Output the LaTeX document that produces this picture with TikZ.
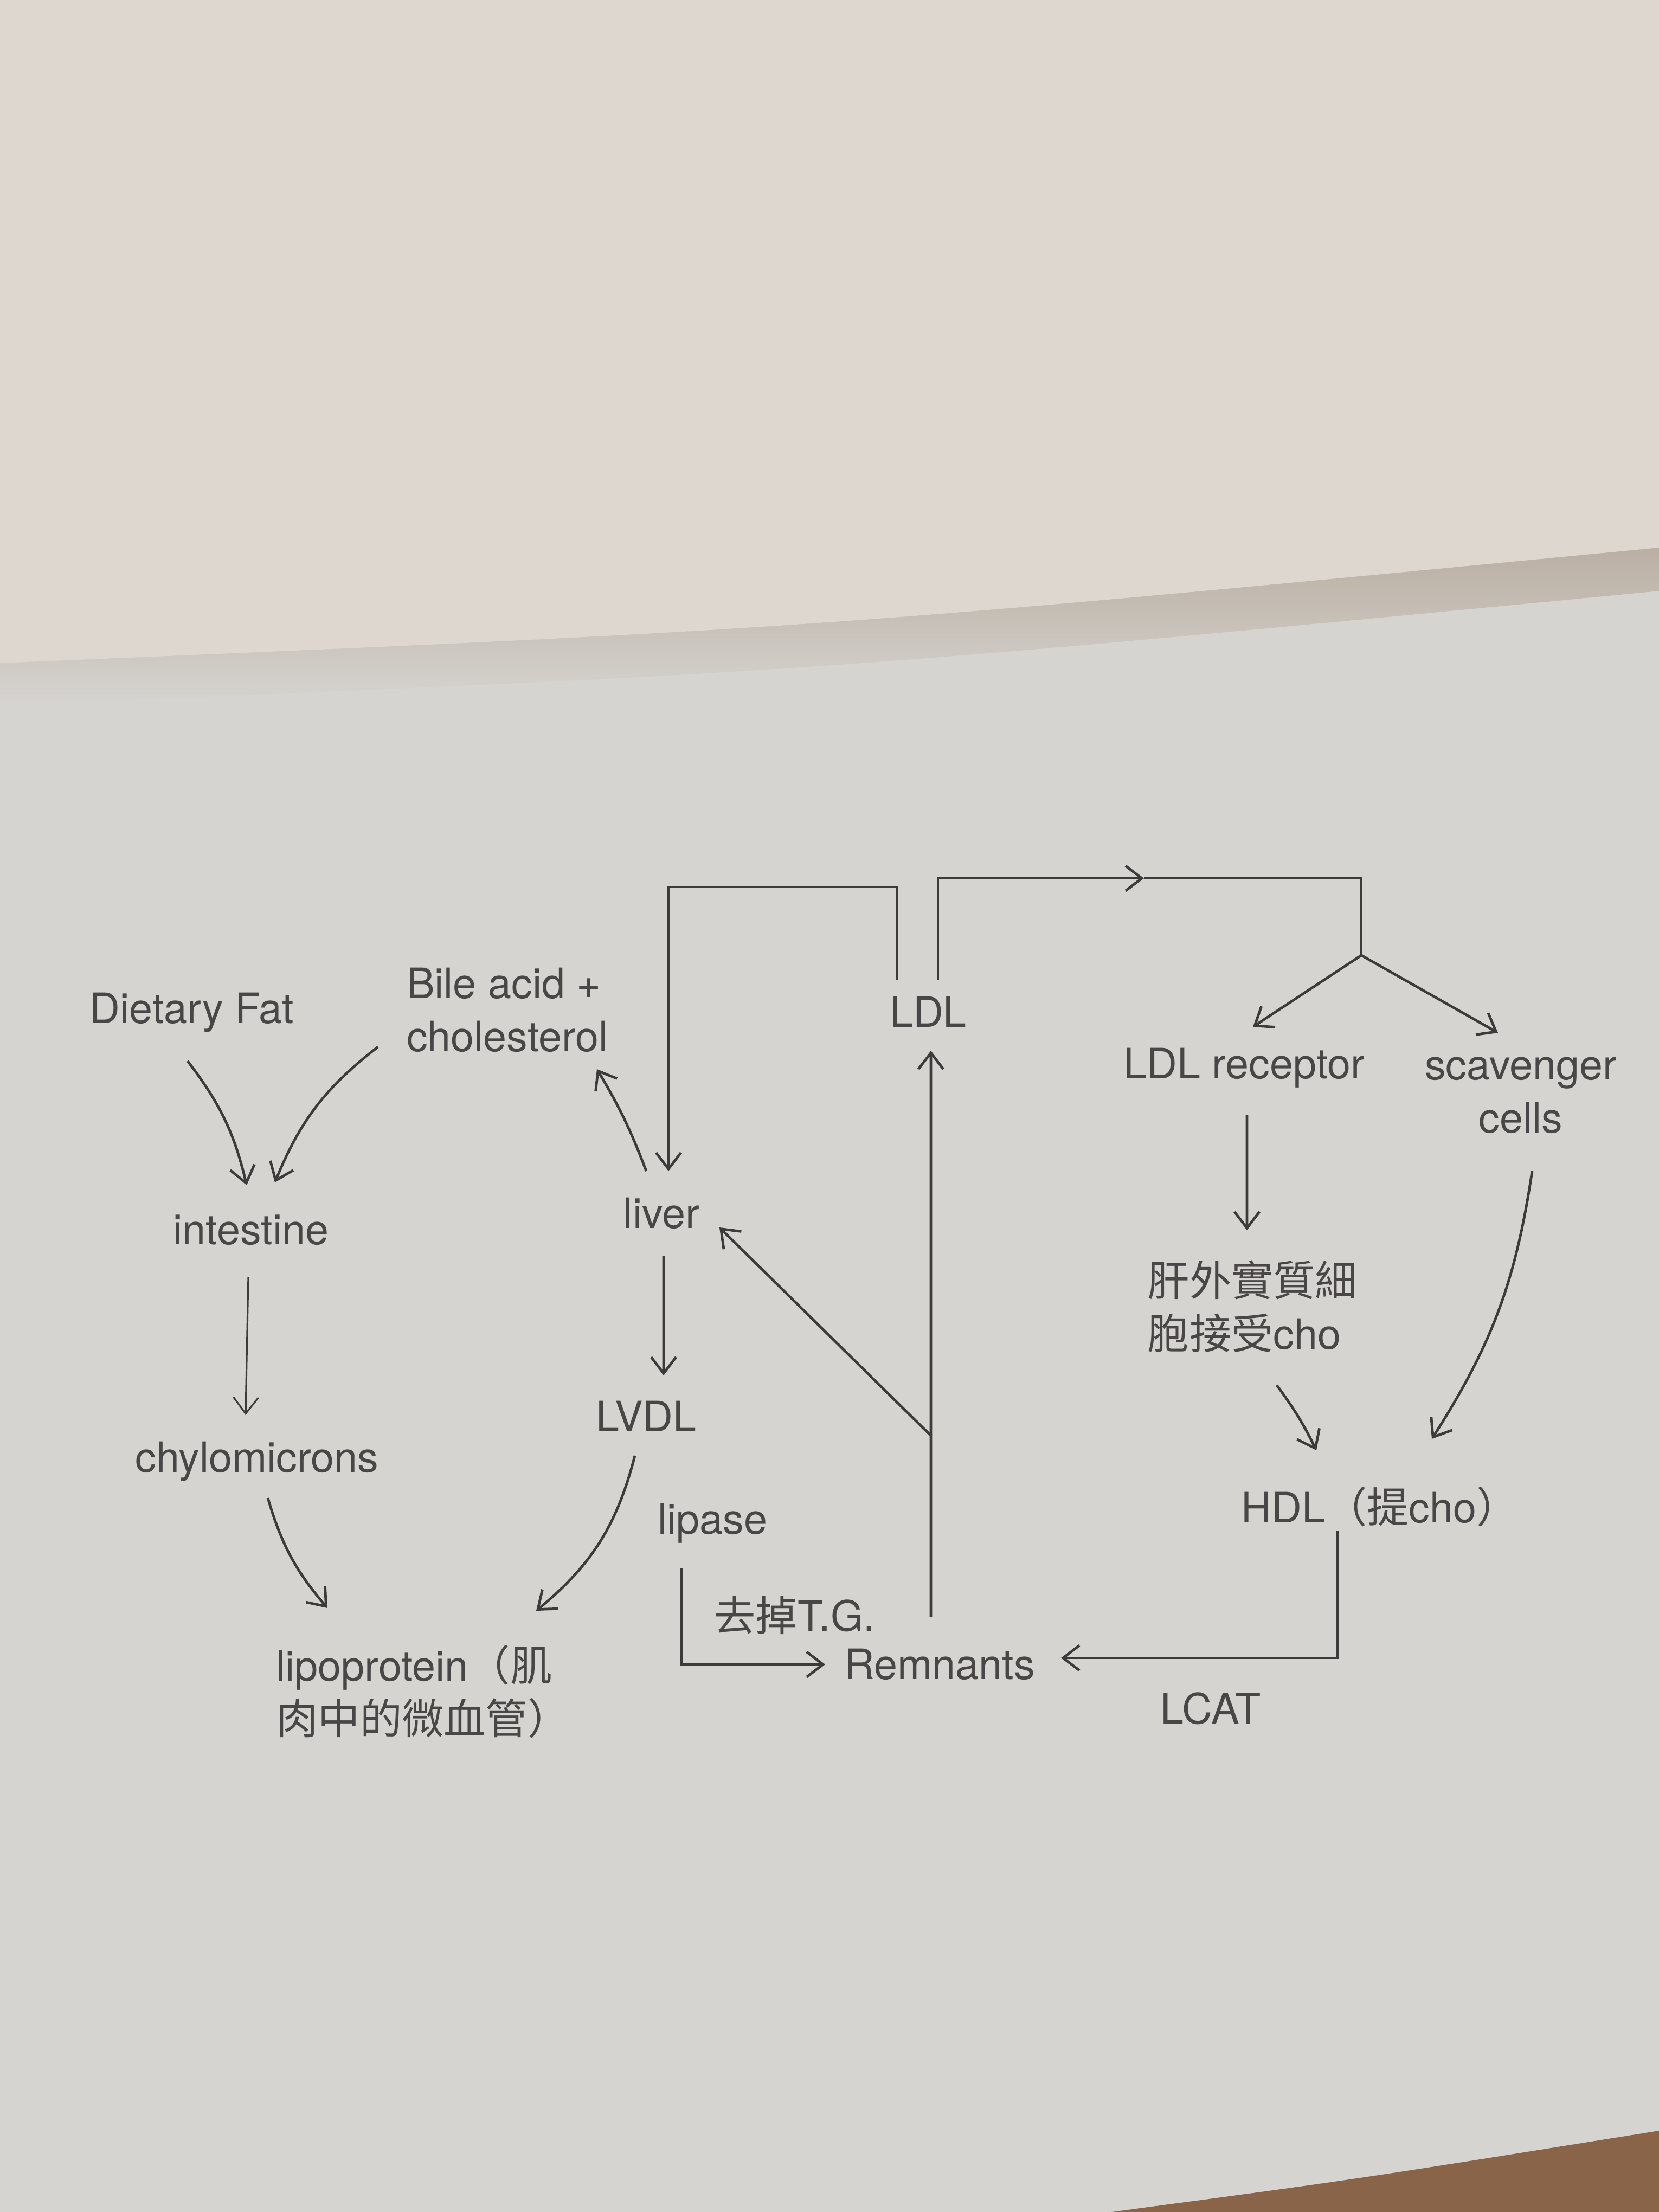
\documentclass[tikz,border=0pt]{standalone}
\usepackage{fontspec}
\setmainfont{TeX Gyre Heros}
\newfontfamily\cjk{Noto Sans CJK TC}
\usetikzlibrary{arrows.meta,positioning}
\definecolor{paper}{HTML}{D6D4D0}
\definecolor{otherpage}{HTML}{DDD7CF}
\definecolor{fold}{HTML}{B9AEA2}
\definecolor{table}{HTML}{8A6448}
\definecolor{ink}{HTML}{4A4647}
\definecolor{inkline}{HTML}{3E3A3B}

\begin{document}
\begin{tikzpicture}[node distance=2cm, auto,
    txt/.style={text=ink, font=\fontsize{22}{28}\selectfont, inner sep=0pt},
    line/.style={draw=inkline, line width=1.35pt, -{Straight Barb[length=3mm,width=4.6mm]}},
    plain/.style={draw=inkline, line width=1.35pt}]

\useasboundingbox (0,0) rectangle (30.6,-40.8);
\fill [paper] (0,0) rectangle (30.6,-40.8);
\shade [top color=fold, bottom color=paper] (0,-12.1) .. controls (15,-11.5) .. (30.6,-10.0) -- (30.6,-10.9) .. controls (15,-12.4) .. (0,-13.0) -- cycle;
\fill [otherpage] (0,0) -- (0,-12.23) .. controls (15,-11.6) .. (30.6,-10.1) -- (30.6,0) -- cycle;
\fill [table] (20.5,-40.8) .. controls (25,-40.2) .. (30.6,-39.3) -- (30.6,-40.8) -- cycle;

\node [txt] (fat) at (3.54,-18.68) {Dietary Fat};
\node [txt, align=left] (bile) at (9.36,-18.63) {Bile acid +\\cholesterol};
\node [txt] (intestine) at (4.63,-22.69) {intestine};
\node [txt, below of=intestine, node distance=4.27cm, xshift=0.11cm] (chylo) {chylomicrons};
\node [txt, align=left] (lipo) at (7.8,-31.2) {lipoprotein{\cjk （肌}\\{\cjk 肉中的微血管）}};
\node [txt] (liver) at (12.2,-22.38) {liver};
\node [txt, below of=liver, node distance=3.74cm, xshift=-0.28cm] (lvdl) {LVDL};
\node [txt] (lipase) at (13.14,-28.10) {lipase};
\node [txt] (tg) at (14.65,-29.79) {{\cjk 去掉}T.G.};
\node [txt] (rem) at (17.33,-30.70) {Remnants};
\node [txt] (ldl) at (17.12,-18.66) {LDL};
\node [txt] (ldlr) at (22.95,-19.70) {LDL receptor};
\node [txt, align=center] (scav) at (28.05,-20.2) {scavenger\\cells};
\node [txt, align=left, below of=ldlr, node distance=4.4cm, xshift=0.15cm] (gan) {{\cjk 肝外實質細}\\{\cjk 胞接受}cho};
\node [txt] (hdl) at (25.45,-27.79) {HDL{\cjk （提}cho{\cjk ）}};
\node [txt] (lcat) at (22.33,-31.51) {LCAT};

\coordinate (fork) at (25.11,-17.62);
\coordinate (topmid) at (21.1,-16.2);

\path [line] ([shift={(-0.08,-0.89)}]fat.center) to[bend left=12] ([shift={(-0.08,0.83)}]intestine.center);
\path [line] ([shift={(-2.39,-0.68)}]bile.center) to[bend right=15] ([shift={(0.44,0.88)}]intestine.center);
\path [line, line width=0.9pt] ([shift={(-0.05,-0.86)}]intestine.center) -- ([shift={(-0.21,0.86)}]chylo.center);
\path [line] ([shift={(0.2,-0.67)}]chylo.center) to[bend right=12] ([shift={(-1.76,1.54)}]lipo.center);
\path [line] ([shift={(-0.21,-0.73)}]lvdl.center) to[bend left=18] ([shift={(2.09,1.49)}]lipo.center);
\path [line] ([shift={(-0.28,0.78)}]liver.center) to[bend right=5] ([shift={(1.65,-1.09)}]bile.center);
\path [line] ([shift={(0.04,-0.78)}]liver.center) -- ([shift={(0.32,0.75)}]lvdl.center);
\path [line] ([shift={(-0.57,0.58)}]ldl.center) -- ++(0,1.72) -| ([shift={(0.13,0.78)}]liver.center);
\path [line] ([shift={(0.18,0.58)}]ldl.center) |- (topmid);
\path [plain] (topmid) -| (fork);
\path [line] (fork) -- ([shift={(0.16,0.76)}]ldlr.center);
\path [line] (fork) -- ([shift={(-0.42,1.15)}]scav.center);
\path [line] ([shift={(0.05,-0.86)}]ldlr.center) -- ([shift={(-0.1,1.41)}]gan.center);
\path [line] ([shift={(0.45,-1.45)}]gan.center) to[bend left=5] ([shift={(-1.17,1.04)}]hdl.center);
\path [line] ([shift={(0.21,-1.4)}]scav.center) to[bend left=12] ([shift={(0.96,1.25)}]hdl.center);
\path [line] ([shift={(-0.78,-0.44)}]hdl.center) |- ([shift={(2.24,0.12)}]rem.center);
\path [line] ([shift={(-0.57,-0.83)}]lipase.center) |- ([shift={(-2.11,0)}]rem.center);
\path [line] ([shift={(-0.16,0.88)}]rem.center) -- coordinate[pos=0.32] (knee) ([shift={(0.05,-0.72)}]ldl.center);
\path [line] (knee) -- ([shift={(1.07,-0.26)}]liver.center);
\end{tikzpicture}
\end{document}
